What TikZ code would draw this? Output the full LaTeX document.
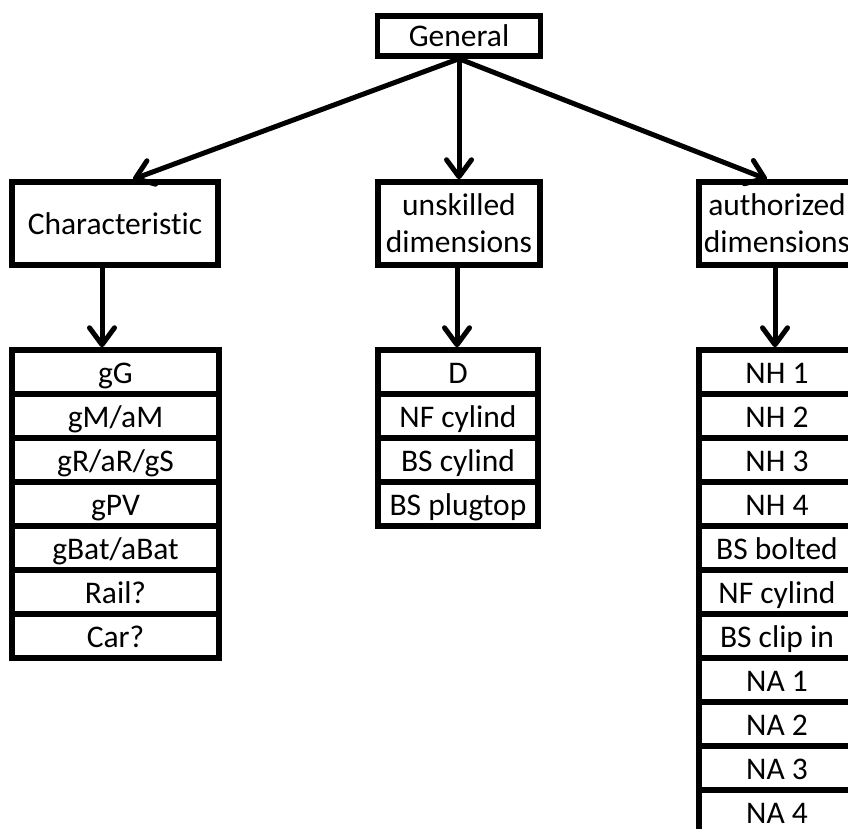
\documentclass[tikz,border=0pt]{standalone}
\usepackage{fontspec}
\setmainfont{Carlito}[Ligatures=NoCommon]
\usetikzlibrary{arrows.meta}
\begin{document}
\begin{tikzpicture}[x=1pt,y=-1pt,
  box/.style={draw, line width=5.5pt, inner sep=0pt, fill=white,
    font=\fontsize{31.5pt}{37pt}\selectfont, align=center},
  one/.style={box, text height=22pt, text depth=0pt},
  two/.style={box},
  cell/.style={one, minimum height=44pt},
  lcell/.style={cell, minimum width=207pt},
  mcell/.style={cell, minimum width=160pt},
  rcell/.style={cell, minimum width=156pt},
  arr/.style={line width=5pt, -{Straight Barb[length=17pt,width=25pt,round]}}]
\clip (0,0) rectangle (848,829);
\fill[white] (0,0) rectangle (848,829);

\node[one, minimum width=163pt, minimum height=40pt] (gen) at (459,36) {General};
\node[one, minimum width=206pt, minimum height=83pt] (char) at (115,223.5) {Characteristic};
\node[two, minimum width=162pt, minimum height=83pt] (unsk) at (459,223.5) {unskilled\\dimensions};
\node[two, minimum width=156pt, minimum height=83pt] (auth) at (777,223.5) {authorized\\dimensions};

% left table
\node[lcell] (l1) at (115.5,372) {gG};
\node[lcell] (l2) at (115.5,416) {gM/aM};
\node[lcell] (l3) at (115.5,460) {gR/aR/gS};
\node[lcell] (l4) at (115.5,504) {gPV};
\node[lcell] (l5) at (115.5,548) {gBat/aBat};
\node[lcell] (l6) at (115.5,592) {Rail?};
\node[lcell] (l7) at (115.5,636) {Car?};

% middle table
\node[mcell] (m1) at (458,372) {D};
\node[mcell] (m2) at (458,416) {NF cylind};
\node[mcell] (m3) at (458,460) {BS cylind};
\node[mcell] (m4) at (458,504) {BS plugtop};

% right table
\node[rcell] (r1) at (777,372) {NH 1};
\node[rcell] (r2) at (777,416) {NH 2};
\node[rcell] (r3) at (777,460) {NH 3};
\node[rcell] (r4) at (777,504) {NH 4};
\node[rcell] (r5) at (777,548) {BS bolted};
\node[rcell] (r6) at (777,592) {NF cylind};
\node[rcell] (r7) at (777,636) {BS clip in};
\node[rcell] (r8) at (777,680) {NA 1};
\node[rcell] (r9) at (777,724) {NA 2};
\node[rcell] (r10) at (777,768) {NA 3};
\node[rcell] (r11) at (777,812) {NA 4};

% connectors
\draw[arr] (gen.south) -- ([xshift=18pt]char.north);
\draw[arr] (gen.south) -- (unsk.north);
\draw[arr] (gen.south) -- ([xshift=-10pt]auth.north);
\draw[arr] ([xshift=-13pt]char.south) -- ([xshift=-13.5pt]l1.north);
\draw[arr] ([xshift=-2pt]unsk.south) -- ([xshift=-1pt]m1.north);
\draw[arr] ([xshift=-2pt]auth.south) -- ([xshift=-2pt]r1.north);
\end{tikzpicture}
\end{document}
